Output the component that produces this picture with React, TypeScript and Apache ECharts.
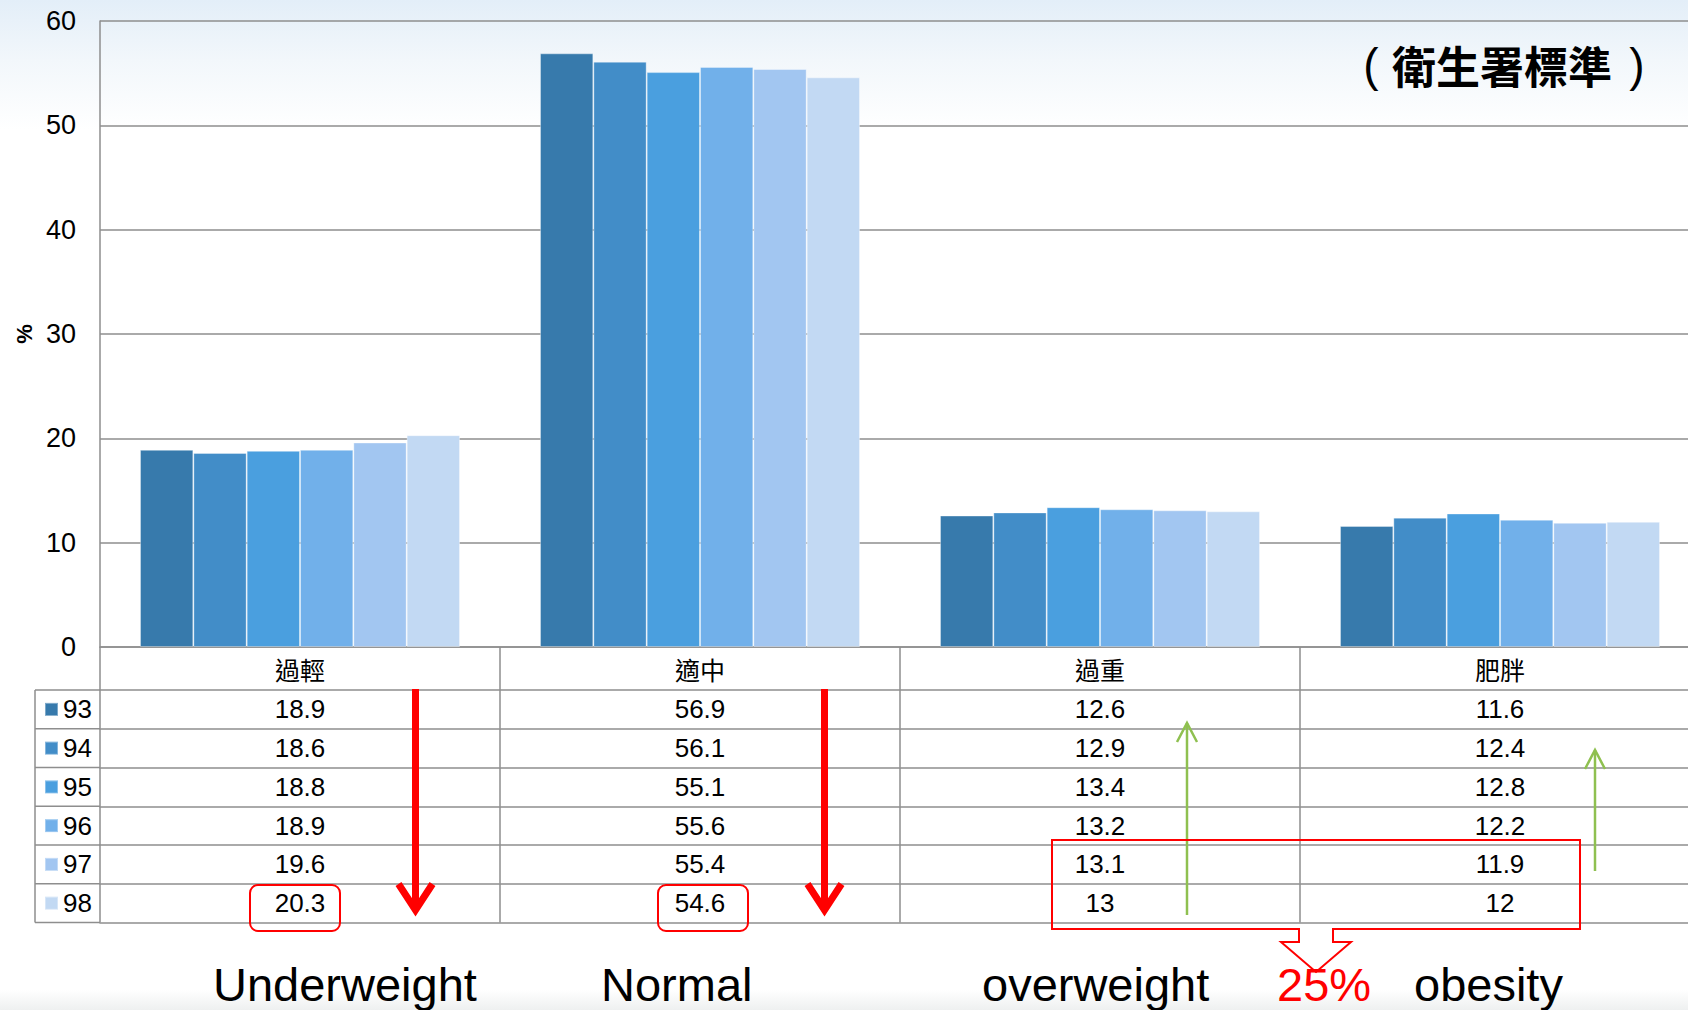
import React, { useEffect, useRef } from "react";
import * as echarts from "echarts";

const categories = ["過輕", "適中", "過重", "肥胖"];
const years = ["93", "94", "95", "96", "97", "98"];
const values93 = [18.9, 56.9, 12.6, 11.6];
const values94 = [18.6, 56.1, 12.9, 12.4];
const values95 = [18.8, 55.1, 13.4, 12.8];
const values96 = [18.9, 55.6, 13.2, 12.2];
const values97 = [19.6, 55.4, 13.1, 11.9];
const values98 = [20.3, 54.6, 13, 12];
const seriesValues = [values93, values94, values95, values96, values97, values98];
const yTicks = { min: 0, max: 60, interval: 10 };
const englishLabels = ["Underweight", "Normal", "overweight", "25%", "obesity"];
const titleText = "衛生署標準";

const colors = ["#377AAC", "#428DC8", "#4A9FDF", "#71B0EA", "#A2C6F1", "#C2D9F3"];
const LINE = "#8e8e8e";
const LATIN = "'Liberation Sans', Arial, sans-serif";
const CJK = "'Noto Sans CJK TC', 'Liberation Sans', sans-serif";

const GRID_LEFT = 100;
const GRID_TOP = 21;
const ZERO_Y = 647;
const HEADER_H = 43;
const ROW_H = 38.75;
const TABLE_FONT = 26;

export default function App() {
  const ref = useRef<HTMLDivElement>(null);
  useEffect(() => {
    if (!ref.current) return;
    const chart = echarts.init(ref.current, undefined, { renderer: "svg" });

    const xAxes: any[] = [
      {
        type: "category",
        data: categories,
        position: "bottom",
        gridIndex: 0,
        axisLine: { show: true, lineStyle: { color: LINE, width: 1.5 } },
        axisTick: { show: true, length: HEADER_H, interval: 0, alignWithLabel: false, lineStyle: { color: LINE, width: 1.5 } },
        axisLabel: { interval: 0, fontSize: 25, color: "#000", margin: 9, fontFamily: CJK },
      },
    ];
    seriesValues.forEach((vals, i) => {
      xAxes.push({
        type: "category",
        data: categories,
        position: "bottom",
        gridIndex: 0,
        offset: HEADER_H + i * ROW_H,
        axisLine: { show: true, lineStyle: { color: LINE, width: 1.5 } },
        axisTick: { show: true, length: ROW_H, interval: 0, alignWithLabel: false, lineStyle: { color: LINE, width: 1.5 } },
        axisLabel: {
          interval: 0,
          fontSize: TABLE_FONT,
          color: "#000",
          margin: (ROW_H - TABLE_FONT) / 2,
          fontFamily: LATIN,
          formatter: (_v: string, idx: number) => String(vals[idx]),
        },
      });
    });
    xAxes.push({
      type: "category",
      data: categories,
      position: "bottom",
      gridIndex: 0,
      offset: HEADER_H + seriesValues.length * ROW_H,
      axisLine: { show: true, lineStyle: { color: LINE, width: 1.5 } },
      axisTick: { show: false },
      axisLabel: { show: false },
    });

    const tableTop = ZERO_Y + HEADER_H;
    const tableBottom = tableTop + seriesValues.length * ROW_H;
    const graphics: any[] = [];
    for (let i = 0; i <= seriesValues.length; i++) {
      const y = tableTop + i * ROW_H;
      graphics.push({
        type: "line",
        shape: { x1: 35, y1: y, x2: GRID_LEFT, y2: y },
        style: { stroke: LINE, lineWidth: 1.5 },
        z: 5,
      });
    }
    graphics.push({
      type: "line",
      shape: { x1: 35, y1: tableTop, x2: 35, y2: tableBottom },
      style: { stroke: LINE, lineWidth: 1.5 },
      z: 5,
    });

    // red down arrows
    [415.5, 824.5].forEach((x) => {
      graphics.push({
        type: "rect",
        shape: { x: x - 3.5, y: 689, width: 7, height: 218 },
        style: { fill: "#ff0000" },
        z: 100,
      });
      graphics.push({
        type: "polyline",
        shape: { points: [[x - 17, 884], [x, 910], [x + 17, 884]] },
        style: { stroke: "#ff0000", lineWidth: 7, fill: null, lineJoin: "miter" },
        z: 100,
      });
    });
    // rounded highlight boxes
    [250, 658].forEach((x) => {
      graphics.push({
        type: "rect",
        shape: { x, y: 885, width: 90, height: 46, r: 8 },
        style: { fill: null, stroke: "#ff0000", lineWidth: 2 },
        z: 100,
      });
    });
    // green up arrows
    [
      [1187, 915, 723],
      [1595, 871, 750],
    ].forEach(([x, y1, y2]) => {
      graphics.push({
        type: "line",
        shape: { x1: x, y1, x2: x, y2 },
        style: { stroke: "#8fc050", lineWidth: 2.5 },
        z: 100,
      });
      graphics.push({
        type: "polyline",
        shape: { points: [[x - 10, y2 + 19], [x, y2], [x + 10, y2 + 19]] },
        style: { stroke: "#8fc050", lineWidth: 2.5, fill: null },
        z: 100,
      });
    });
    // callout box
    graphics.push({
      type: "polygon",
      shape: {
        points: [
          [1052, 840], [1580, 840], [1580, 929], [1333, 929], [1333, 942], [1351, 942],
          [1316, 972], [1281, 942], [1299, 942], [1299, 929], [1052, 929],
        ],
      },
      style: { fill: null, stroke: "#ff0000", lineWidth: 2 },
      z: 100,
    });
    // english labels
    const labelX = [213, 601, 982, 1277, 1414];
    englishLabels.forEach((t, i) => {
      graphics.push({
        type: "text",
        x: labelX[i],
        y: 984,
        style: {
          text: t,
          fill: t === "25%" ? "#ff0000" : "#000",
          font: `47px ${LATIN}`,
          align: "left",
          verticalAlign: "middle",
        },
        z: 110,
      });
    });
    graphics.push({
      type: "text",
      x: 1502,
      y: 65,
      style: {
        text: titleText,
        fill: "#000",
        font: `bold 44px ${CJK}`,
        align: "center",
        verticalAlign: "middle",
      },
      z: 110,
    });
    graphics.push({
      type: "text",
      x: 1371,
      y: 65,
      style: { text: "(", fill: "#000", font: `46px ${LATIN}`, align: "center", verticalAlign: "middle" },
      z: 110,
    });
    graphics.push({
      type: "text",
      x: 1637,
      y: 65,
      style: { text: ")", fill: "#000", font: `46px ${LATIN}`, align: "center", verticalAlign: "middle" },
      z: 110,
    });

    chart.setOption({
      animation: false,
      backgroundColor: "transparent",
      grid: {
        left: GRID_LEFT,
        top: GRID_TOP,
        width: 1600,
        height: ZERO_Y - GRID_TOP,
        containLabel: false,
        outerBoundsMode: "none",
      },
      legend: {
        data: years,
        orient: "vertical",
        left: 44,
        top: tableTop + (ROW_H - TABLE_FONT) / 2,
        padding: 0,
        itemWidth: 13,
        itemHeight: 13,
        itemGap: ROW_H - TABLE_FONT,
        icon: "rect",
        selectedMode: false,
        textStyle: { fontSize: TABLE_FONT, lineHeight: TABLE_FONT, color: "#000", fontFamily: LATIN },
      },
      xAxis: xAxes,
      yAxis: {
        type: "value",
        min: yTicks.min,
        max: yTicks.max,
        interval: yTicks.interval,
        name: "%",
        nameLocation: "middle",
        nameGap: 65,
        nameRotate: 90,
        nameTextStyle: { fontSize: 22, color: "#000", fontWeight: "bold", fontFamily: LATIN },
        axisLine: { show: true, lineStyle: { color: LINE, width: 1.5 } },
        axisTick: { show: false },
        axisLabel: { fontSize: 27, color: "#000", margin: 24, fontFamily: LATIN },
        splitLine: { show: true, lineStyle: { color: LINE, width: 1.5 } },
      },
      series: years.map((y, i) => ({
        name: y,
        type: "bar",
        xAxisIndex: 0,
        data: seriesValues[i],
        barGap: "0%",
        barCategoryGap: "20%",
        itemStyle: { color: colors[i], borderColor: "rgba(255,255,255,0.35)", borderWidth: 1 },
      })),
      graphic: graphics,
    });

    return () => chart.dispose();
  }, []);

  return (
    <div
      style={{
        position: "fixed",
        left: 0,
        top: 0,
        width: 1688,
        height: 1010,
        background:
          "linear-gradient(180deg, #e3eef8 0px, #f2f7fb 60px, #ffffff 130px, #ffffff 990px, #eef0f0 1010px)",
      }}
    >
      <div ref={ref} style={{ width: 1688, height: 1010 }} />
    </div>
  );
}
